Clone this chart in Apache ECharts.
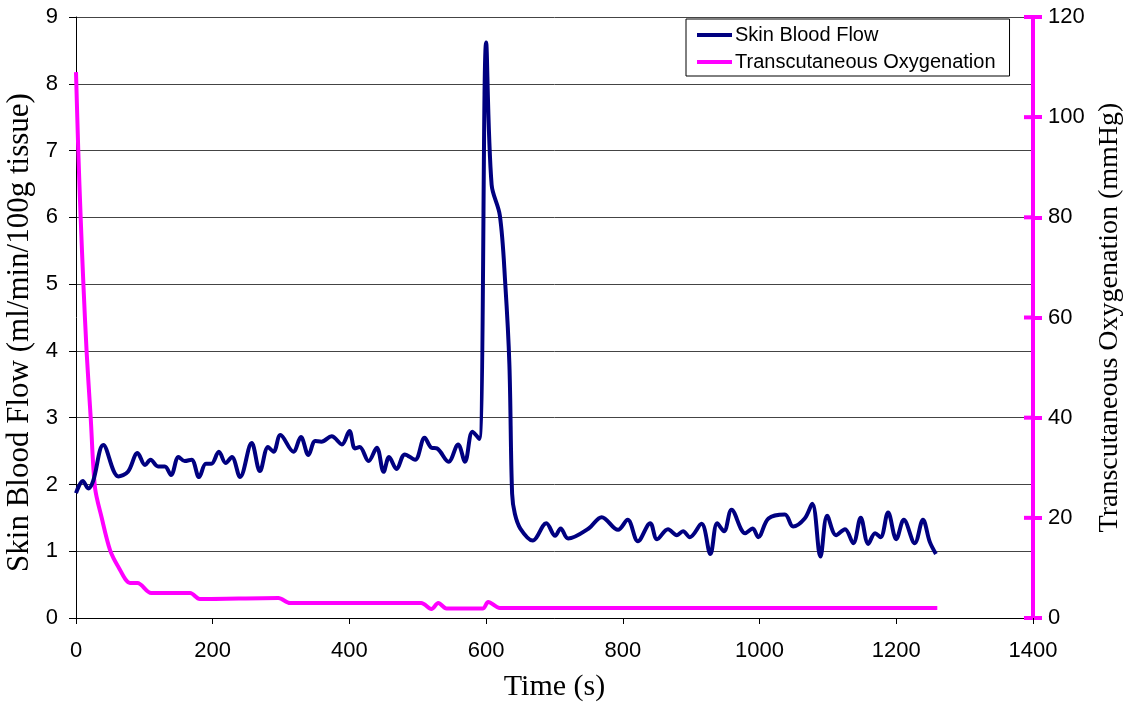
<!DOCTYPE html>
<html>
<head>
<meta charset="utf-8">
<script src="https://cdn.jsdelivr.net/npm/echarts@6/dist/echarts.min.js"></script>
<style>html,body{margin:0;padding:0;background:#fff}#c{width:1133px;height:702px}</style>
</head>
<body>
<div id="c"></div>
<script>
const sbfTime = [0,10,18,25,40,62,76,90,101,109,120,130,139,150,159,169,180,190,198,209,219,228,240,257,269,281,289,299,318,329,340,350,359,374,389,400,408,415,428,440,450,458,469,481,496,510,520,528,545,559,569,580,590,600,608,620,628,634,638,642,650,668,688,701,709,720,750,769,793,807,822,840,850,866,879,888,898,915,928,938,948,959,979,990,998,1013,1037,1049,1066,1077,1089,1099,1112,1125,1137,1148,1159,1169,1177,1188,1200,1211,1227,1239,1249,1258];
const sbfValue = [1.87,2.05,1.94,2.05,2.59,2.12,2.19,2.47,2.29,2.37,2.27,2.27,2.14,2.41,2.35,2.37,2.11,2.31,2.31,2.49,2.32,2.41,2.11,2.62,2.20,2.56,2.49,2.74,2.49,2.71,2.44,2.65,2.64,2.72,2.60,2.80,2.54,2.56,2.35,2.55,2.19,2.41,2.23,2.45,2.37,2.70,2.55,2.54,2.34,2.60,2.34,2.79,2.68,8.62,6.49,6.03,5.0,3.8,1.86,1.56,1.34,1.16,1.42,1.23,1.34,1.19,1.34,1.51,1.32,1.47,1.15,1.42,1.18,1.33,1.24,1.30,1.21,1.41,0.96,1.42,1.30,1.62,1.27,1.34,1.21,1.49,1.55,1.37,1.49,1.71,0.92,1.53,1.24,1.33,1.12,1.50,1.11,1.27,1.21,1.58,1.18,1.47,1.12,1.47,1.14,0.96];
const tcoTime = [0,3.4,6.8,10.7,15.6,21.5,27.8,37.6,49.7,62,79,90,110,167,181,296,313,505,520,530,542,595,603,620,1260];
const tcoValue = [109,93,80,67,53,40,26,20,13.6,10.2,7,7,5,5,3.8,4,3,3,1.8,3,1.9,1.9,3.2,2,2];
const xTicks = {min:0, max:1400, interval:200};
const yLeftTicks = {min:0, max:9, interval:1};
const yRightTicks = {min:0, max:120, interval:20};
const rightTickValues = [0,20,40,60,80,100,120];

const sbfData = sbfTime.map((t,i)=>[t,sbfValue[i]]);
const tcoData = tcoTime.map((t,i)=>[t,tcoValue[i]]);

const chart = echarts.init(document.getElementById('c'));
const sans = 'Liberation Sans, Arial, sans-serif';
const serif = 'Liberation Serif, Times New Roman, serif';
const plain = v => String(v);
chart.setOption({
  animation:false,
  backgroundColor:'#fff',
  grid:{left:76,right:100,top:17,bottom:84,containLabel:false,outerBoundsMode:'none'},
  legend:{
    left:686, top:19, orient:'vertical',
    borderColor:'#000', borderWidth:1, backgroundColor:'#fff',
    padding:[6,14,4,11], itemGap:7, itemWidth:35, itemHeight:4,
    icon:'rect',
    textStyle:{fontFamily:sans,fontSize:20,color:'#000',padding:[0,0,0,-2]},
    data:['Skin Blood Flow','Transcutaneous Oxygenation']
  },
  xAxis:{
    type:'value', min:xTicks.min, max:xTicks.max, interval:xTicks.interval,
    name:'Time (s)', nameLocation:'middle', nameGap:54,
    nameTextStyle:{fontFamily:serif,fontSize:30,color:'#000'},
    axisLine:{show:true,lineStyle:{color:'#000',width:1}},
    axisTick:{show:true,length:6,lineStyle:{color:'#000'}},
    axisLabel:{fontFamily:sans,fontSize:22,color:'#000',margin:22,formatter:plain},
    splitLine:{show:false}
  },
  yAxis:[
    {
      type:'value', position:'left', min:yLeftTicks.min, max:yLeftTicks.max, interval:yLeftTicks.interval,
      name:'Skin Blood Flow (ml/min/100g tissue)', nameLocation:'middle', nameGap:35,
      nameTextStyle:{fontFamily:serif,fontSize:31,color:'#000',padding:[0,30,0,0]},
      axisLine:{show:true,onZero:false,lineStyle:{color:'#000',width:1}},
      axisTick:{show:true,length:7,lineStyle:{color:'#000'}},
      axisLabel:{fontFamily:sans,fontSize:22,color:'#000',margin:18,formatter:plain},
      splitLine:{show:true,lineStyle:{color:'#444',width:1}}
    },
    {
      type:'value', position:'right', min:yRightTicks.min, max:yRightTicks.max, interval:yRightTicks.interval,
      name:'Transcutaneous Oxygenation (mmHg)', nameLocation:'middle', nameGap:62, nameRotate:90,
      nameTextStyle:{fontFamily:serif,fontSize:28,color:'#000'},
      axisLine:{show:true,onZero:false,lineStyle:{color:'#ff00ff',width:4}},
      axisTick:{show:true,length:9,lineStyle:{color:'#ff00ff',width:4}},
      axisLabel:{fontFamily:sans,fontSize:22,color:'#000',margin:15,formatter:plain},
      splitLine:{show:false}
    }
  ],
  series:[
    {
      name:'Skin Blood Flow', type:'line', yAxisIndex:0, data:sbfData,
      smooth:0.35, showSymbol:false, symbol:'none',
      lineStyle:{color:'#000080',width:4}, itemStyle:{color:'#000080'}, z:3
    },
    {
      name:'Transcutaneous Oxygenation', type:'line', yAxisIndex:1, data:tcoData,
      smooth:0.3, showSymbol:false, symbol:'none',
      lineStyle:{color:'#ff00ff',width:4}, itemStyle:{color:'#ff00ff'}, z:2
    },
    {
      name:'rightTicksInside', type:'custom', yAxisIndex:1, silent:true, clip:false, z:5,
      data:rightTickValues.map(v=>[xTicks.max,v]),
      renderItem:function(params, api){
        const p = api.coord([api.value(0), api.value(1)]);
        return {type:'line', shape:{x1:p[0]-9,y1:p[1],x2:p[0],y2:p[1]}, style:{stroke:'#ff00ff',lineWidth:4}};
      }
    }
  ]
});
</script>
</body>
</html>
